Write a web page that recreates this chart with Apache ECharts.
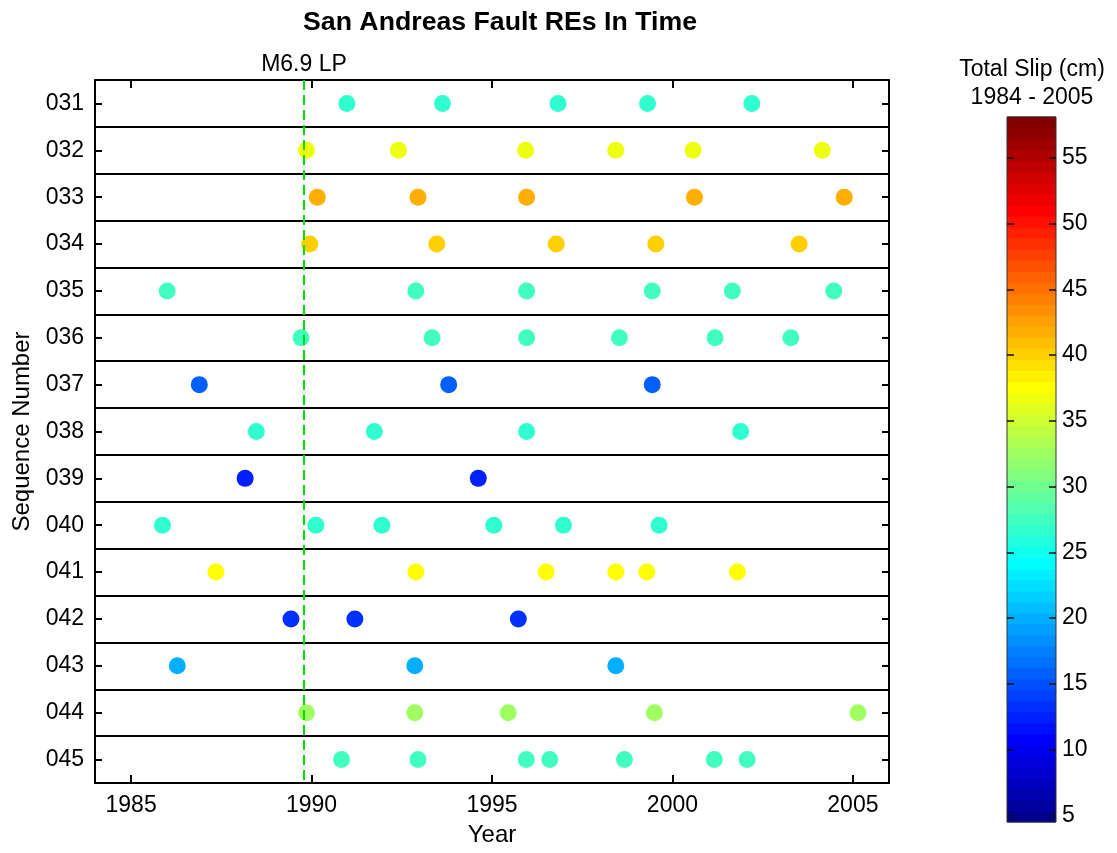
<!DOCTYPE html>
<html>
<head>
<meta charset="utf-8">
<script src="https://cdn.jsdelivr.net/npm/echarts@6/dist/echarts.min.js"></script>
<style>
  html, body { margin: 0; padding: 0; background: #fff; }
  #chart { width: 1117px; height: 853px; }
</style>
</head>
<body>
<div id="chart"></div>
<script>
// Repeating-earthquake sequences, top to bottom
const sequences = ['031', '032', '033', '034', '035', '036', '037', '038', '039', '040', '041', '042', '043', '044', '045'];

// Total slip of each sequence over 1984 - 2005 (cm)
const slipCm = [26.7, 36.7, 41.8, 40.3, 27.5, 27.5, 15.8, 26.7, 12.4, 26.7, 37.6, 13.3, 20.0, 32.8, 27.5];

// Event times (decimal years) of each sequence, same order as above
const eventYears = [
  [1990.98, 1993.63, 1996.83, 1999.31, 2002.20],
  [1989.86, 1992.41, 1995.93, 1998.43, 2000.57, 2004.15],
  [1990.16, 1992.95, 1995.96, 2000.61, 2004.76],
  [1989.95, 1993.47, 1996.78, 1999.54, 2003.51],
  [1986.00, 1992.89, 1995.96, 1999.44, 2001.66, 2004.47],
  [1989.71, 1993.34, 1995.96, 1998.53, 2001.18, 2003.28],
  [1986.89, 1993.80, 1999.44],
  [1988.47, 1991.74, 1995.96, 2001.89],
  [1988.16, 1994.62],
  [1985.87, 1990.12, 1991.95, 1995.05, 1996.98, 1999.63],
  [1987.35, 1992.89, 1996.50, 1998.43, 1999.29, 2001.80],
  [1989.43, 1991.20, 1995.73],
  [1986.28, 1992.86, 1998.43],
  [1989.86, 1992.86, 1995.45, 1999.50, 2005.14],
  [1990.83, 1992.95, 1995.95, 1996.60, 1998.67, 2001.16, 2002.07]
];

// Loma Prieta mainshock
const mainshockYear = 1989.79;
const mainshockLabel = 'M6.9 LP';

const yearRange = [1984, 2006];
const yearTicks = [1985, 1990, 1995, 2000, 2005];
const slipRange = [4.5, 58.1];
const slipTicks = [5, 10, 15, 20, 25, 30, 35, 40, 45, 50, 55];

const FONT = 'Liberation Sans, Arial, sans-serif';
const N_COLORS = 64;

// 64-level jet colormap, k = 1..64
function jetRGB(k) {
  const b = k <= 8 ? 0.5 + k / 16 : k <= 24 ? 1 : k <= 40 ? 1 - (k - 24) / 16 : 0;
  const g = k <= 8 ? 0 : k <= 24 ? (k - 8) / 16 : k <= 40 ? 1 : k <= 56 ? 1 - (k - 40) / 16 : 0;
  const r = k <= 24 ? 0 : k <= 40 ? (k - 24) / 16 : k <= 56 ? 1 : 1 - (k - 56) / 16;
  const c = v => Math.round(Math.max(0, Math.min(1, v)) * 255);
  return 'rgb(' + c(r) + ',' + c(g) + ',' + c(b) + ')';
}
function slipIndex(v) {
  const t = (v - slipRange[0]) / (slipRange[1] - slipRange[0]);
  return Math.min(N_COLORS, Math.max(1, Math.floor(t * N_COLORS) + 1));
}
function slipColor(v) { return jetRGB(slipIndex(v)); }

// scatter points: [year, sequence, slip]
const points = [];
sequences.forEach((s, i) => {
  eventYears[i].forEach(y => points.push([y, s, slipCm[i]]));
});

// colour bar bands: [lower, upper, colour index]
const bands = [];
const step = (slipRange[1] - slipRange[0]) / N_COLORS;
for (let k = 1; k <= N_COLORS; k++) {
  bands.push([slipRange[0] + (k - 1) * step, slipRange[0] + k * step, k]);
}

const black = '#000';
const tickStyle = { color: black, width: 2 };
const plainNumber = v => String(v);

const option = {
  animation: false,
  backgroundColor: '#fff',
  textStyle: { fontFamily: FONT, color: black },
  graphic: [
    { type: 'text', x: 500, y: 23, style: { text: 'San Andreas Fault REs In Time', font: 'bold 26.7px ' + FONT, fill: black, align: 'center', verticalAlign: 'middle' } },
    { type: 'text', x: 1032, y: 70, style: { text: 'Total Slip (cm)', font: '23px ' + FONT, fill: black, align: 'center', verticalAlign: 'middle' } },
    { type: 'text', x: 1032, y: 98, style: { text: '1984 - 2005', font: '23px ' + FONT, fill: black, align: 'center', verticalAlign: 'middle' } }
  ],
  grid: [
    { left: 95, right: 228, top: 80, bottom: 70, containLabel: false },
    { left: 1007, top: 117, width: 49, height: 705, show: true, borderColor: '#333', borderWidth: 1, backgroundColor: 'transparent', z: 10 }
  ],
  xAxis: [
    {
      type: 'value', gridIndex: 0, position: 'bottom', min: yearRange[0], max: yearRange[1],
      axisLine: { show: true, onZero: false, lineStyle: { color: black, width: 2 } },
      axisTick: { show: true, inside: true, length: 8, customValues: yearTicks, lineStyle: tickStyle },
      axisLabel: { show: true, customValues: yearTicks, formatter: plainNumber, margin: 11, fontSize: 23, color: black, fontFamily: FONT },
      splitLine: { show: false },
      name: 'Year', nameLocation: 'middle', nameGap: 40,
      nameTextStyle: { fontSize: 24, color: black, fontFamily: FONT }
    },
    {
      type: 'value', gridIndex: 0, position: 'top', min: yearRange[0], max: yearRange[1],
      axisLine: { show: true, onZero: false, lineStyle: { color: black, width: 2 } },
      axisTick: { show: true, inside: true, length: 8, customValues: yearTicks, lineStyle: tickStyle },
      axisLabel: { show: false },
      splitLine: { show: false }
    },
    { type: 'value', gridIndex: 1, min: 0, max: 1, show: false }
  ],
  yAxis: [
    {
      type: 'category', gridIndex: 0, data: sequences, inverse: true, position: 'left',
      axisLine: { show: true, onZero: false, lineStyle: { color: black, width: 2 } },
      axisTick: { show: true, inside: true, alignWithLabel: true, length: 7, lineStyle: tickStyle },
      axisLabel: { margin: 11, fontSize: 23, color: black, fontFamily: FONT },
      splitLine: { show: true, lineStyle: { color: black, width: 2 } },
      name: 'Sequence Number', nameLocation: 'middle', nameGap: 61, nameRotate: 90,
      nameTextStyle: { fontSize: 24, color: black, fontFamily: FONT }
    },
    {
      type: 'category', gridIndex: 0, data: sequences, inverse: true, position: 'right',
      axisLine: { show: true, onZero: false, lineStyle: { color: black, width: 2 } },
      axisTick: { show: true, inside: true, alignWithLabel: true, length: 7, lineStyle: tickStyle },
      axisLabel: { show: false },
      splitLine: { show: false }
    },
    {
      type: 'value', gridIndex: 1, position: 'right', min: slipRange[0], max: slipRange[1], z: 10,
      axisLine: { show: false, onZero: false },
      axisTick: { show: true, inside: true, length: 7, customValues: slipTicks, lineStyle: { color: '#111', width: 1.5 } },
      axisLabel: { show: true, customValues: slipTicks, formatter: plainNumber, margin: 6, fontSize: 23, color: black, fontFamily: FONT },
      splitLine: { show: false }
    },
    {
      type: 'value', gridIndex: 1, position: 'left', min: slipRange[0], max: slipRange[1], z: 10,
      axisLine: { show: false, onZero: false },
      axisTick: { show: true, inside: true, length: 7, customValues: slipTicks, lineStyle: { color: '#111', width: 1.5 } },
      axisLabel: { show: false },
      splitLine: { show: false }
    }
  ],
  series: [
    {
      type: 'scatter', xAxisIndex: 0, yAxisIndex: 0,
      symbol: 'circle', symbolSize: 17,
      data: points,
      itemStyle: { color: p => slipColor(p.data[2]), opacity: 1 },
      markLine: {
        silent: true, symbol: ['none', 'none'], z: 10,
        lineStyle: { color: '#00e000', width: 2, type: [10, 5] },
        label: { show: true, position: 'start', formatter: mainshockLabel, fontSize: 23, color: black, fontFamily: FONT, distance: 4 },
        emphasis: { disabled: true },
        data: [{ xAxis: mainshockYear }]
      }
    },
    {
      type: 'custom', xAxisIndex: 2, yAxisIndex: 2, z: 1,
      silent: true,
      data: bands,
      renderItem: function (params, api) {
        const p0 = api.coord([0, api.value(0)]);
        const p1 = api.coord([1, api.value(1)]);
        return {
          type: 'rect',
          shape: { x: p0[0], y: p1[1] - 0.5, width: p1[0] - p0[0], height: p0[1] - p1[1] + 1 },
          style: { fill: jetRGB(api.value(2)) }
        };
      }
    }
  ]
};

const chart = echarts.init(document.getElementById('chart'), null, { renderer: 'canvas' });
chart.setOption(option);
</script>
</body>
</html>
